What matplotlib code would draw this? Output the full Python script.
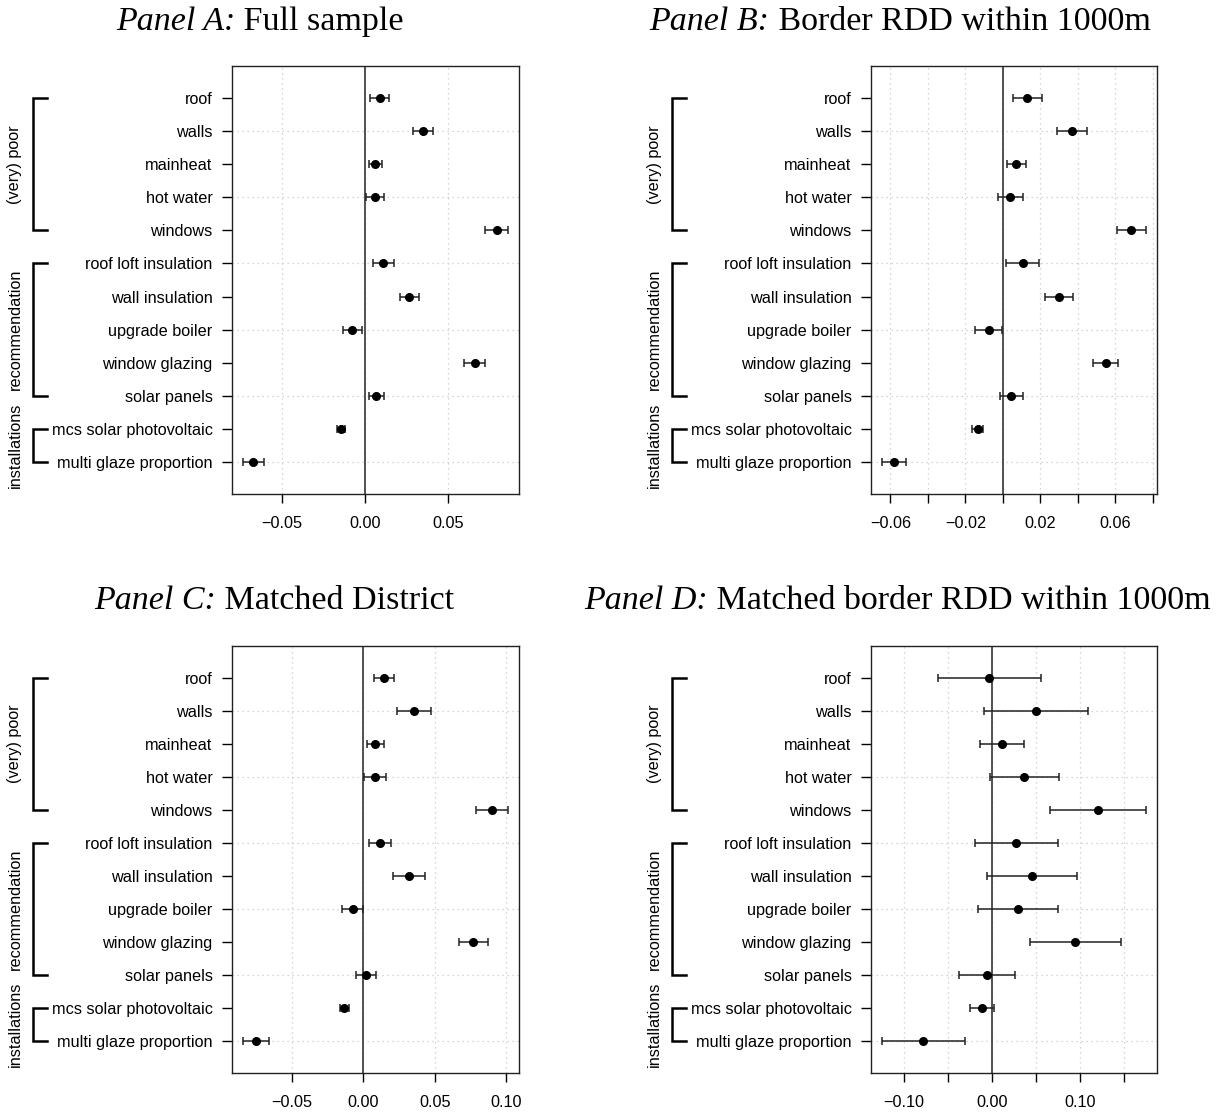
import numpy as np
import matplotlib
matplotlib.use("Agg")
import matplotlib.pyplot as plt
import matplotlib.transforms as mtransforms

plt.rcParams['font.family'] = ['Liberation Sans', 'DejaVu Sans']

# row labels, top to bottom
labels = ["roof", "walls", "mainheat", "hot water", "windows",
          "roof loft insulation", "wall insulation", "upgrade boiler",
          "window glazing", "solar panels",
          "mcs solar photovoltaic", "multi glaze proportion"]
groups = ["(very) poor", "recommendation", "installations"]
group_rows = [(1, 5), (6, 10), (11, 12)]

# Panel A: full sample
est_a = [0.0088, 0.035, 0.006, 0.0056, 0.079, 0.0108, 0.0264, -0.008, 0.0658, 0.0066, -0.0146, -0.0672]
lo_a = [0.0026, 0.0286, 0.0022, 0.0006, 0.072, 0.0046, 0.0208, -0.0136, 0.0596, 0.0022, -0.017, -0.0736]
hi_a = [0.0146, 0.041, 0.010, 0.0112, 0.086, 0.0172, 0.0322, -0.002, 0.0722, 0.0116, -0.0122, -0.0606]
# Panel B: border RDD within 1000m
est_b = [0.013, 0.037, 0.0069, 0.0037, 0.0686, 0.0105, 0.030, -0.0076, 0.055, 0.0046, -0.0135, -0.0583]
lo_b = [0.0053, 0.029, 0.002, -0.0028, 0.061, 0.0018, 0.0226, -0.0146, 0.0482, -0.0014, -0.0167, -0.0647]
hi_b = [0.0208, 0.045, 0.0124, 0.0108, 0.0766, 0.0192, 0.0375, -0.0004, 0.0617, 0.0107, -0.0105, -0.0517]
# Panel C: matched district
est_c = [0.0147, 0.0357, 0.0084, 0.0082, 0.0902, 0.0117, 0.0317, -0.0072, 0.0769, 0.0016, -0.0133, -0.0751]
lo_c = [0.0077, 0.0238, 0.0028, 0.0005, 0.079, 0.0037, 0.0205, -0.0149, 0.0671, -0.0054, -0.0166, -0.0844]
hi_c = [0.0217, 0.0473, 0.0142, 0.0159, 0.1014, 0.0196, 0.0431, 0.0, 0.087, 0.0089, -0.010, -0.0657]
# Panel D: matched border RDD within 1000m
est_d = [-0.003, 0.0496, 0.0117, 0.0368, 0.1203, 0.0278, 0.0455, 0.0297, 0.0944, -0.0056, -0.0113, -0.0778]
lo_d = [-0.0613, -0.0094, -0.0132, -0.0019, 0.0658, -0.0192, -0.0053, -0.0154, 0.0436, -0.0372, -0.0244, -0.1248]
hi_d = [0.0553, 0.1087, 0.0365, 0.0756, 0.1748, 0.0752, 0.0966, 0.0752, 0.1462, 0.0263, 0.0026, -0.0308]

panel_tags = ["Panel A:", "Panel B:", "Panel C:", "Panel D:"]
panel_names = ["Full sample", "Border RDD within 1000m",
               "Matched District", "Matched border RDD within 1000m"]

ticks_a = [-0.05, 0.0, 0.05]
ticks_b = [-0.06, -0.04, -0.02, 0.0, 0.02, 0.04, 0.06, 0.08]
ticks_c = [-0.05, 0.0, 0.05, 0.10]
ticks_d = [-0.10, -0.05, 0.0, 0.05, 0.10, 0.15]
ticklab_a = ["\u22120.05", "0.00", "0.05"]
ticklab_b = ["\u22120.06", "", "\u22120.02", "", "0.02", "", "0.06", ""]
ticklab_c = ["\u22120.05", "0.00", "0.05", "0.10"]
ticklab_d = ["\u22120.10", "", "0.00", "", "0.10", ""]

W, H = 1217, 1120
fig = plt.figure(figsize=(W / 100, H / 100), dpi=100)

FS = 11.7
TFS = 24.5


def panel(box, est, lo, hi, ticks, ticklabs, tag, name, title_y):
    l, r, t, b = box
    ax = fig.add_axes([l / W, 1 - b / H, (r - l) / W, (b - t) / H])
    y = np.arange(1, len(labels) + 1)
    est = np.array(est)
    lo = np.array(lo)
    hi = np.array(hi)
    mn, mx = lo.min(), hi.max()
    pad = 0.04 * (mx - mn)
    ax.set_xlim(mn - pad, mx + pad)
    ax.set_ylim(12.98, 0.02)

    for xt in ticks:
        ax.axvline(xt, color="#c8c8c8", lw=0.9, ls=(0, (1, 3)), zorder=0)
    for yy in range(2, 13, 2):
        ax.axhline(yy, color="#c8c8c8", lw=0.9, ls=(0, (1, 3)), zorder=0)
    ax.axvline(0, color="#444444", lw=1.3, zorder=1)

    ax.errorbar(est, y, xerr=[est - lo, hi - est], fmt="o", color="black",
                ecolor="#222222", elinewidth=1.1, capsize=3, capthick=1.1,
                markersize=5.5, zorder=3)

    ax.set_yticks(y)
    ax.set_yticklabels(labels, fontsize=FS)
    ax.set_xticks(ticks)
    ax.set_xticklabels(ticklabs, fontsize=FS)
    ax.tick_params(axis="y", length=7, width=1, pad=7)
    ax.tick_params(axis="x", length=6.5, width=1, pad=9)
    for s in ax.spines.values():
        s.set_linewidth(1.0)
        s.set_color("#222222")

    # group brackets on the left
    wpx = r - l
    trans = mtransforms.blended_transform_factory(ax.transAxes, ax.transData)
    xv = -199 / wpx
    xh = -185 / wpx
    xt = -217 / wpx
    for g, (r0, r1) in zip(groups, group_rows):
        ax.plot([xh, xv, xv, xh], [r0, r0, r1, r1], transform=trans,
                color="black", lw=1.8, clip_on=False, solid_joinstyle="miter")
        ax.text(xt, (r0 + r1) / 2, g, transform=trans, rotation=90,
                ha="center", va="center", fontsize=FS)

    # title: italic tag followed by upright name (positioned after drawing)
    t1 = fig.text(0, 1 - title_y / H, tag, ha="left", va="bottom",
                  fontsize=TFS, family="Liberation Serif", style="italic")
    t2 = fig.text(0, 1 - title_y / H, " " + name, ha="left", va="bottom",
                  fontsize=TFS, family="Liberation Serif")
    return t1, t2


title_parts = []
for box, e, lo, hi, tk, tl, i, ty in [
        ((232, 519, 66, 494), est_a, lo_a, hi_a, ticks_a, ticklab_a, 0, 37),
        ((871, 1157, 66, 494), est_b, lo_b, hi_b, ticks_b, ticklab_b, 1, 37),
        ((232, 519, 646, 1073), est_c, lo_c, hi_c, ticks_c, ticklab_c, 2, 616),
        ((871, 1157, 646, 1073), est_d, lo_d, hi_d, ticks_d, ticklab_d, 3, 616)]:
    title_parts.append(panel(box, e, lo, hi, tk, tl, panel_tags[i], panel_names[i], ty))

# centre each two-part title on the reference centres
title_cx = [260, 900, 274, 897]
fig.canvas.draw()
renderer = fig.canvas.get_renderer()
for (t1, t2), cx in zip(title_parts, title_cx):
    w1 = t1.get_window_extent(renderer).width
    w2 = t2.get_window_extent(renderer).width
    x0 = cx - (w1 + w2) / 2
    y0 = t1.get_position()[1]
    t1.set_position((x0 / W, y0))
    t2.set_position(((x0 + w1) / W, y0))

fig.savefig("out.png", dpi=100)
